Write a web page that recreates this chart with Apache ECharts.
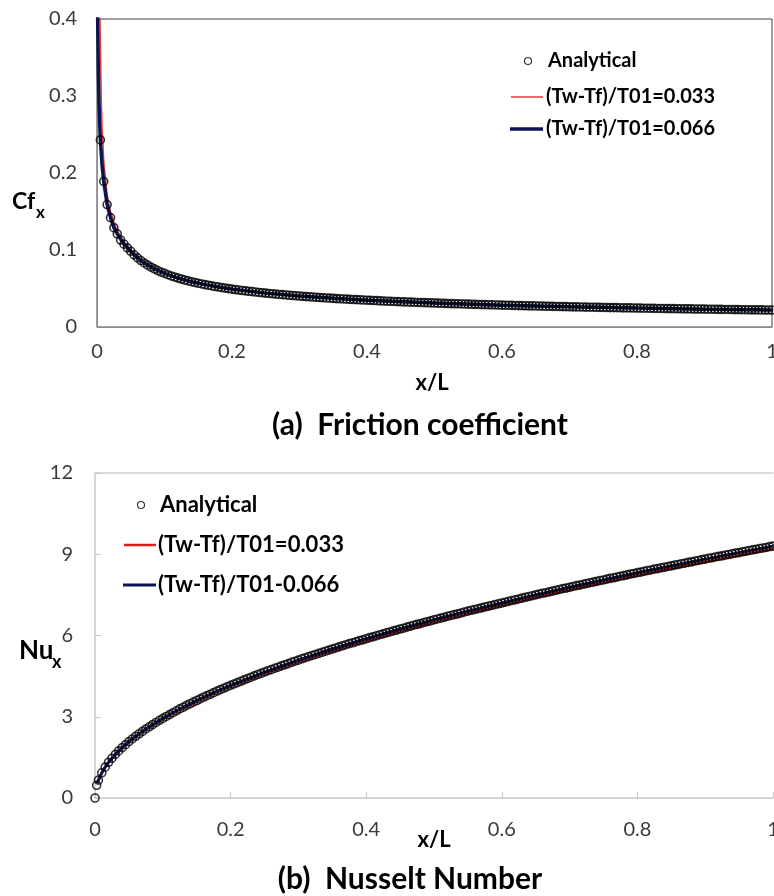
<!DOCTYPE html>
<html>
<head>
<meta charset="utf-8">
<script src="https://cdn.jsdelivr.net/npm/echarts@6/dist/echarts.min.js"></script>
<style>
html,body{margin:0;padding:0;background:#fff;overflow:hidden}
#main{width:774px;height:896px}
</style>
</head>
<body>
<div id="main"></div>
<script>
// x/L grid of the analytical points
var xAnalytical = [
0.005,0.01,0.015,0.02,0.025,0.03,0.035,0.04,0.045,0.05,
0.055,0.06,0.065,0.07,0.075,0.08,0.085,0.09,0.095,0.1,
0.105,0.11,0.115,0.12,0.125,0.13,0.135,0.14,0.145,0.15,
0.155,0.16,0.165,0.17,0.175,0.18,0.185,0.19,0.195,0.2,
0.205,0.21,0.215,0.22,0.225,0.23,0.235,0.24,0.245,0.25,
0.255,0.26,0.265,0.27,0.275,0.28,0.285,0.29,0.295,0.3,
0.305,0.31,0.315,0.32,0.325,0.33,0.335,0.34,0.345,0.35,
0.355,0.36,0.365,0.37,0.375,0.38,0.385,0.39,0.395,0.4,
0.405,0.41,0.415,0.42,0.425,0.43,0.435,0.44,0.445,0.45,
0.455,0.46,0.465,0.47,0.475,0.48,0.485,0.49,0.495,0.5,
0.505,0.51,0.515,0.52,0.525,0.53,0.535,0.54,0.545,0.55,
0.555,0.56,0.565,0.57,0.575,0.58,0.585,0.59,0.595,0.6,
0.605,0.61,0.615,0.62,0.625,0.63,0.635,0.64,0.645,0.65,
0.655,0.66,0.665,0.67,0.675,0.68,0.685,0.69,0.695,0.7,
0.705,0.71,0.715,0.72,0.725,0.73,0.735,0.74,0.745,0.75,
0.755,0.76,0.765,0.77,0.775,0.78,0.785,0.79,0.795,0.8,
0.805,0.81,0.815,0.82,0.825,0.83,0.835,0.84,0.845,0.85,
0.855,0.86,0.865,0.87,0.875,0.88,0.885,0.89,0.895,0.9,
0.905,0.91,0.915,0.92,0.925,0.93,0.935,0.94,0.945,0.95,
0.955,0.96,0.965,0.97,0.975,0.98,0.985,0.99,0.995,1
];

// (a) friction coefficient, analytical points
var cfAnalytical = [
0.243,0.189,0.159,0.142,0.129,0.121,0.113,0.1075,0.1028,0.0984,
0.0938,0.0898,0.0863,0.0832,0.0803,0.0778,0.0755,0.0733,0.0714,0.0696,
0.0679,0.0663,0.0649,0.0635,0.0622,0.0610,0.0599,0.0588,0.0578,0.0568,
0.0559,0.0550,0.0542,0.0534,0.0526,0.0519,0.0511,0.0505,0.0498,0.0492,
0.0486,0.0480,0.0474,0.0469,0.0464,0.0459,0.0454,0.0449,0.0444,0.0440,
0.0436,0.0431,0.0427,0.0423,0.0420,0.0416,0.0412,0.0409,0.0405,0.0402,
0.0398,0.0395,0.0392,0.0389,0.0386,0.0383,0.0380,0.0377,0.0375,0.0372,
0.0369,0.0367,0.0364,0.0362,0.0359,0.0357,0.0355,0.0352,0.0350,0.0348,
0.0346,0.0344,0.0342,0.0339,0.0337,0.0335,0.0334,0.0332,0.0330,0.0328,
0.0326,0.0324,0.0323,0.0321,0.0319,0.0318,0.0316,0.0314,0.0313,0.0311,
0.0310,0.0308,0.0307,0.0305,0.0304,0.0302,0.0301,0.0299,0.0298,0.0297,
0.0295,0.0294,0.0293,0.0291,0.0290,0.0289,0.0288,0.0286,0.0285,0.0284,
0.0283,0.0282,0.0281,0.0279,0.0278,0.0277,0.0276,0.0275,0.0274,0.0273,
0.0272,0.0271,0.0270,0.0269,0.0268,0.0267,0.0266,0.0265,0.0264,0.0263,
0.0262,0.0261,0.0260,0.0259,0.0258,0.0257,0.0257,0.0256,0.0255,0.0254,
0.0253,0.0252,0.0252,0.0251,0.0250,0.0249,0.0248,0.0248,0.0247,0.0246,
0.0245,0.0244,0.0244,0.0243,0.0242,0.0241,0.0241,0.0240,0.0239,0.0239,
0.0238,0.0237,0.0237,0.0236,0.0235,0.0235,0.0234,0.0233,0.0233,0.0232,
0.0231,0.0231,0.0230,0.0229,0.0229,0.0228,0.0228,0.0227,0.0226,0.0226,
0.0225,0.0225,0.0224,0.0223,0.0223,0.0222,0.0222,0.0221,0.0221,0.0220
];

// (a) simulated curves
var cfRedX = [0.004,0.005,0.0062,0.0075,0.01,0.015,0.02,0.025,0.03,0.04,0.05,0.06,0.07,0.08,0.1,0.12,0.14,0.16,0.18,0.2,0.25,0.3,0.35,0.4,0.5,0.6,0.7,0.8,0.9,1];
var cfRedY = [0.42,0.37,0.30,0.26,0.215,0.172,0.150,0.136,0.125,0.110,0.100,0.091,0.084,0.0785,0.0700,0.0638,0.0590,0.0552,0.0521,0.0494,0.0442,0.0403,0.0373,0.0349,0.0312,0.0285,0.0264,0.0247,0.0233,0.0221];
var cfNavyX = [0.0002,0.001,0.002,0.003,0.004,0.005,0.0075,0.01,0.015,0.02,0.025,0.03,0.04,0.05,0.06,0.07,0.08,0.1,0.12,0.14,0.16,0.18,0.2,0.25,0.3,0.35,0.4,0.5,0.6,0.7,0.8,0.9,1];
var cfNavyY = [0.60,0.40,0.33,0.29,0.262,0.243,0.21,0.189,0.159,0.142,0.129,0.121,0.1075,0.0984,0.0898,0.0832,0.0778,0.0696,0.0635,0.0588,0.0550,0.0519,0.0492,0.0440,0.0402,0.0372,0.0348,0.0311,0.0284,0.0263,0.0246,0.0232,0.0220];

// (b) Nusselt number, analytical points (two leading points near the edge)
var xNuLead = [0, 0.0025];
var nuLead = [0, 0.47];
var nuAnalytical = [
0.66,0.93,1.14,1.32,1.47,1.61,1.74,1.86,1.97,2.08,
2.18,2.28,2.37,2.46,2.55,2.63,2.71,2.79,2.87,2.94,
3.01,3.08,3.15,3.22,3.29,3.35,3.42,3.48,3.54,3.60,
3.66,3.72,3.78,3.83,3.89,3.95,4.00,4.05,4.11,4.16,
4.21,4.26,4.31,4.36,4.41,4.46,4.51,4.56,4.60,4.65,
4.70,4.74,4.79,4.83,4.88,4.92,4.96,5.01,5.05,5.09,
5.14,5.18,5.22,5.26,5.30,5.34,5.38,5.42,5.46,5.50,
5.54,5.58,5.62,5.66,5.70,5.73,5.77,5.81,5.84,5.88,
5.92,5.95,5.99,6.03,6.06,6.10,6.13,6.17,6.20,6.24,
6.27,6.31,6.34,6.38,6.41,6.44,6.48,6.51,6.54,6.58,
6.61,6.64,6.67,6.71,6.74,6.77,6.80,6.83,6.87,6.90,
6.93,6.96,6.99,7.02,7.05,7.08,7.11,7.14,7.17,7.20,
7.23,7.26,7.29,7.32,7.35,7.38,7.41,7.44,7.47,7.50,
7.53,7.56,7.58,7.61,7.64,7.67,7.70,7.73,7.75,7.78,
7.81,7.84,7.86,7.89,7.92,7.95,7.97,8.00,8.03,8.05,
8.08,8.11,8.13,8.16,8.19,8.21,8.24,8.27,8.29,8.32,
8.34,8.37,8.40,8.42,8.45,8.47,8.50,8.52,8.55,8.57,
8.60,8.62,8.65,8.67,8.70,8.72,8.75,8.77,8.80,8.82,
8.85,8.87,8.90,8.92,8.94,8.97,8.99,9.02,9.04,9.06,
9.09,9.11,9.14,9.16,9.18,9.21,9.23,9.25,9.28,9.30
];

// (b) simulated curves
var nuLineX = [0.003,0.005,0.01,0.015,0.02,0.03,0.04,0.05,0.06,0.07,0.08,0.1,0.12,0.14,0.16,0.18,0.2,0.25,0.3,0.35,0.4,0.45,0.5,0.55,0.6,0.65,0.7,0.75,0.8,0.85,0.9,0.95,1];
var nuRedY = [0.54,0.65,0.92,1.13,1.31,1.59,1.84,2.06,2.26,2.44,2.60,2.91,3.19,3.44,3.68,3.91,4.12,4.60,5.04,5.44,5.82,6.17,6.51,6.83,7.12,7.42,7.70,7.96,8.23,8.48,8.72,8.96,9.20];
var nuNavyY = [0.55,0.66,0.93,1.14,1.32,1.61,1.86,2.08,2.28,2.46,2.63,2.94,3.22,3.48,3.72,3.95,4.16,4.65,5.09,5.50,5.88,6.24,6.58,6.90,7.20,7.50,7.78,8.05,8.32,8.57,8.82,9.06,9.30];

var legendA = ['Analytical', '(Tw-Tf)/T01=0.033', '(Tw-Tf)/T01=0.066'];
var legendB = ['Analytical', '(Tw-Tf)/T01=0.033', '(Tw-Tf)/T01-0.066'];

function pairs(xs, ys) {
	var out = [];
	for (var i = 0; i < xs.length; i++) {
		out.push([xs[i], ys[i]]);
	}
	return out;
}

var RED = '#e4393b';
var RED_B = '#d41f1f';
var NAVY = '#0c1452';
var FONT = 'Lato';

var chart = echarts.init(document.getElementById('main'));

var tickLabel = {color: '#3a3a3a', fontSize: 20, fontFamily: FONT};
// hollow markers, as in the original sheet
var markerStyle = {color: 'rgba(255,255,255,0)', borderColor: '#000', borderWidth: 1.6};

function txt(x, y, s, size, align) {
	return {
		type: 'text', x: x, y: y, silent: true,
		style: {text: s, fill: '#000', font: 'bold ' + size + 'px ' + FONT,
			align: align || 'left', verticalAlign: 'middle'}
	};
}

var option = {
	animation: false,
	backgroundColor: '#fff',
	grid: [
		{left: 97, top: 19, width: 675, height: 308, outerBoundsMode: 'none',
			show: true, borderColor: '#404040', borderWidth: 1},
		{left: 95, top: 473, width: 678, height: 325, outerBoundsMode: 'none'}
	],
	xAxis: [
		{
			gridIndex: 0, type: 'value', min: 0, max: 1, interval: 0.2,
			axisLine: {lineStyle: {color: '#8c8c8c'}},
			axisTick: {show: false},
			splitLine: {show: false},
			axisLabel: Object.assign({margin: 15}, tickLabel)
		},
		{
			gridIndex: 1, type: 'value', min: 0, max: 1, interval: 0.2,
			axisLine: {lineStyle: {color: '#c8c8c8', width: 1.5}},
			axisTick: {show: true, inside: true, length: 6, lineStyle: {color: '#c8c8c8'}},
			splitLine: {show: false},
			axisLabel: Object.assign({margin: 22}, tickLabel)
		},
		{
			gridIndex: 1, type: 'value', position: 'top', min: 0, max: 1,
			axisLine: {show: true, lineStyle: {color: '#d0d0d0', width: 1.5}},
			axisTick: {show: false}, axisLabel: {show: false}, splitLine: {show: false}
		}
	],
	yAxis: [
		{
			gridIndex: 0, type: 'value', min: 0, max: 0.4, interval: 0.1,
			axisLine: {show: true, lineStyle: {color: '#8c8c8c'}},
			axisTick: {show: false},
			splitLine: {show: false},
			axisLabel: Object.assign({margin: 20}, tickLabel)
		},
		{
			gridIndex: 1, type: 'value', min: 0, max: 12, interval: 3,
			axisLine: {show: true, lineStyle: {color: '#c8c8c8', width: 1.5}},
			axisTick: {show: true, inside: true, length: 6, lineStyle: {color: '#c8c8c8'}},
			splitLine: {show: false},
			axisLabel: Object.assign({margin: 22}, tickLabel)
		}
	],
	series: [
		{
			name: legendA[0], type: 'scatter', xAxisIndex: 0, yAxisIndex: 0,
			symbol: 'circle', symbolSize: 8, itemStyle: markerStyle, z: 5,
			data: pairs(xAnalytical, cfAnalytical)
		},
		{
			name: legendA[1], type: 'line', xAxisIndex: 0, yAxisIndex: 0,
			symbol: 'none', z: 3,
			lineStyle: {color: RED, width: 1.5},
			data: pairs(cfRedX, cfRedY)
		},
		{
			name: legendA[2], type: 'line', xAxisIndex: 0, yAxisIndex: 0,
			symbol: 'none', z: 4,
			lineStyle: {color: NAVY, width: 3.5},
			data: pairs(cfNavyX, cfNavyY)
		},
		{
			name: legendB[0], type: 'scatter', xAxisIndex: 1, yAxisIndex: 1,
			symbol: 'circle', symbolSize: 8, itemStyle: markerStyle, z: 5,
			data: pairs(xNuLead.concat(xAnalytical), nuLead.concat(nuAnalytical))
		},
		{
			name: legendB[1], type: 'line', xAxisIndex: 1, yAxisIndex: 1,
			symbol: 'none', z: 3,
			lineStyle: {color: RED_B, width: 2.5},
			data: pairs(nuLineX, nuRedY)
		},
		{
			name: legendB[2], type: 'line', xAxisIndex: 1, yAxisIndex: 1,
			symbol: 'none', z: 4,
			lineStyle: {color: NAVY, width: 3},
			data: pairs(nuLineX, nuNavyY)
		}
	],
	graphic: [
		// axis titles and captions
		txt(432, 383, 'x/L', 22, 'center'),
		txt(420, 425, '(a)  Friction coefficient', 30, 'center'),
		txt(12, 202, 'Cf', 23),
		txt(36, 213, 'x', 17),
		txt(434, 840, 'x/L', 22, 'center'),
		txt(410, 879, '(b)  Nusselt Number', 30, 'center'),
		txt(19, 651, 'Nu', 26),
		txt(52, 662, 'x', 18),
		// legend (a)
		{type: 'circle', shape: {cx: 528, cy: 61, r: 3.5}, style: {fill: '#fff', stroke: '#333', lineWidth: 1.2}},
		txt(548, 61, legendA[0], 20),
		{type: 'line', shape: {x1: 511, y1: 97, x2: 543, y2: 97}, style: {stroke: RED, lineWidth: 1.5}},
		txt(546, 97, legendA[1], 20),
		{type: 'line', shape: {x1: 510, y1: 129, x2: 543, y2: 129}, style: {stroke: NAVY, lineWidth: 3.5}},
		txt(546, 129, legendA[2], 20),
		// legend (b)
		{type: 'circle', shape: {cx: 141, cy: 505, r: 3.5}, style: {fill: '#fff', stroke: '#333', lineWidth: 1.2}},
		txt(160, 505, legendB[0], 22),
		{type: 'line', shape: {x1: 124, y1: 545, x2: 156, y2: 545}, style: {stroke: RED_B, lineWidth: 2.5}},
		txt(158, 545, legendB[1], 22),
		{type: 'line', shape: {x1: 123, y1: 585, x2: 156, y2: 585}, style: {stroke: NAVY, lineWidth: 3}},
		txt(158, 585, legendB[2], 22)
	]
};

chart.setOption(option);
</script>
</body>
</html>
